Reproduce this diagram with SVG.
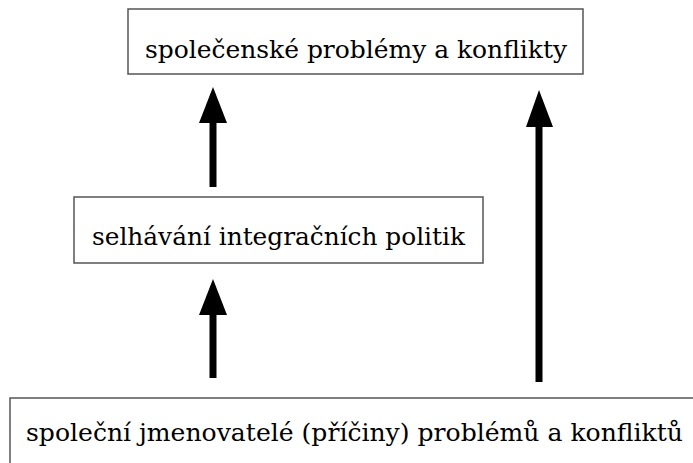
<svg xmlns="http://www.w3.org/2000/svg" width="693" height="463" viewBox="0 0 693 463">
<style>
.box{fill:#fff;stroke:#555;stroke-width:1.5}
.t{font-family:"DejaVu Serif",serif;font-size:25px;fill:#000}
.c{stroke:#000;stroke-width:7;fill:none}
.h{fill:#000}
</style>
<rect width="693" height="463" fill="#fff"/>
<g id="n1"><rect class="box" x="128" y="9" width="455" height="65"/><text class="t" x="145" y="58" textLength="422" lengthAdjust="spacingAndGlyphs">společenské problémy a konflikty</text></g>
<g id="n2"><rect class="box" x="74" y="197" width="409" height="66"/><text class="t" x="92" y="245" textLength="373" lengthAdjust="spacingAndGlyphs">selhávání integračních politik</text></g>
<g id="n3"><rect class="box" x="10" y="398" width="690" height="80"/><text class="t" x="26" y="441" textLength="657" lengthAdjust="spacingAndGlyphs">společní jmenovatelé (příčiny) problémů a konfliktů</text></g>
<g id="connectors">
<line class="c" x1="213" y1="187" x2="213" y2="120"/><polygon class="h" points="213,87 199,123 227,123"/>
<line class="c" x1="213" y1="378" x2="213" y2="312"/><polygon class="h" points="213,279 199,315 227,315"/>
<line class="c" x1="539" y1="382" x2="539" y2="124"/><polygon class="h" points="539,90 526,127 553,127"/>
</g>
</svg>
